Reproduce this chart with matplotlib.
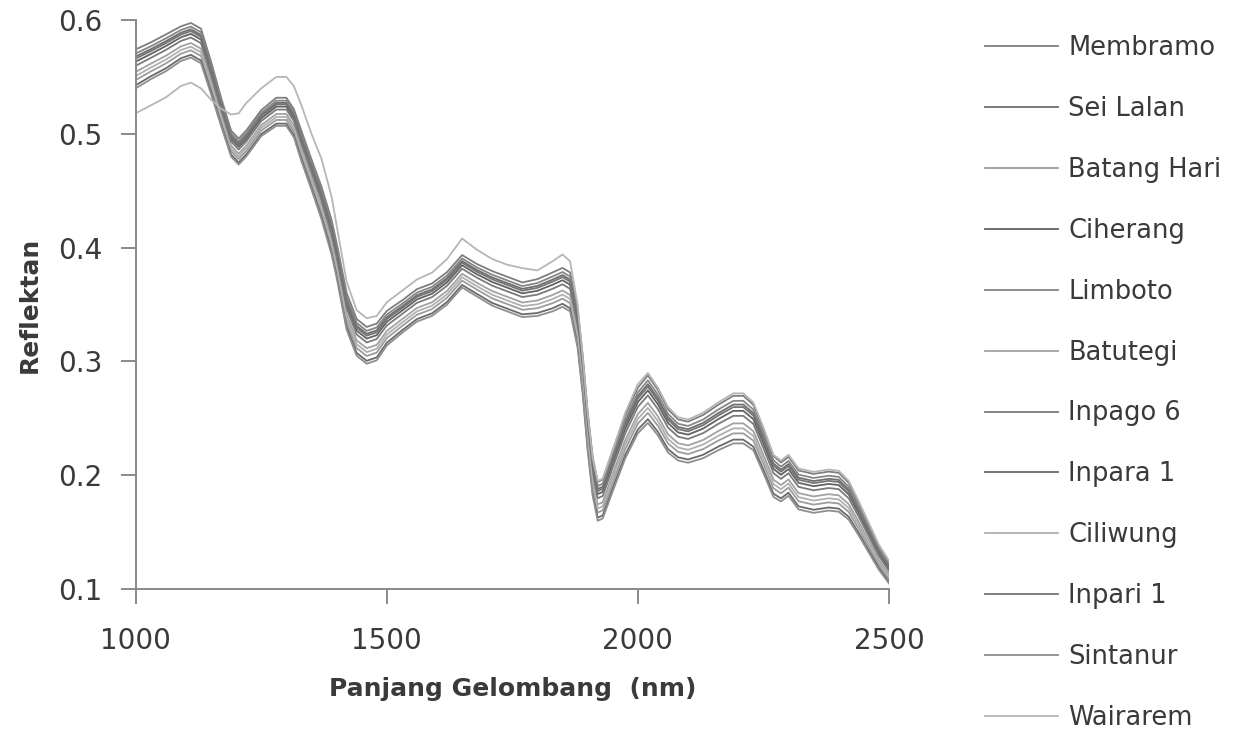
import numpy as np
import matplotlib
matplotlib.use("Agg")
import matplotlib.pyplot as plt

plt.rcParams['font.family'] = ['DejaVu Sans']

# wavelength knots (nm)
wl = [1000, 1030, 1060, 1090, 1110, 1130, 1150, 1170, 1190, 1205, 1220, 1250, 1280, 1300,
      1315, 1330, 1350, 1370, 1390, 1400, 1420, 1440, 1460, 1480, 1500, 1530, 1560, 1590,
      1620, 1650, 1680, 1710, 1740, 1770, 1800, 1830, 1850, 1865, 1880, 1890, 1900, 1910,
      1920, 1930, 1950, 1975, 2000, 2020, 2040, 2060, 2080, 2100, 2130, 2160, 2190, 2210,
      2230, 2250, 2270, 2285, 2300, 2320, 2350, 2380, 2400, 2420, 2440, 2460, 2480, 2500]

# centre of the bundle of curves
center = [0.558, 0.565, 0.572, 0.580, 0.583, 0.578, 0.550, 0.520, 0.492, 0.485, 0.492, 0.510,
          0.520, 0.520, 0.510, 0.490, 0.465, 0.440, 0.410, 0.390, 0.345, 0.322, 0.315, 0.318,
          0.330, 0.340, 0.350, 0.355, 0.365, 0.380, 0.372, 0.365, 0.360, 0.355, 0.357, 0.362,
          0.366, 0.362, 0.330, 0.290, 0.240, 0.200, 0.178, 0.180, 0.205, 0.235, 0.258, 0.268,
          0.256, 0.240, 0.232, 0.230, 0.235, 0.243, 0.250, 0.250, 0.243, 0.222, 0.200, 0.195,
          0.200, 0.188, 0.185, 0.187, 0.186, 0.178, 0.162, 0.145, 0.128, 0.115]

# half width of the bundle
halfw = [0.018, 0.017, 0.017, 0.016, 0.016, 0.016, 0.015, 0.013, 0.012, 0.012, 0.012, 0.012,
         0.013, 0.013, 0.013, 0.014, 0.014, 0.015, 0.016, 0.016, 0.017, 0.017, 0.017, 0.017,
         0.016, 0.015, 0.015, 0.015, 0.015, 0.015, 0.015, 0.016, 0.016, 0.016, 0.017, 0.018,
         0.018, 0.018, 0.018, 0.018, 0.018, 0.018, 0.018, 0.018, 0.019, 0.020, 0.021, 0.022,
         0.021, 0.020, 0.019, 0.019, 0.020, 0.021, 0.022, 0.022, 0.021, 0.020, 0.019, 0.018,
         0.018, 0.018, 0.018, 0.018, 0.018, 0.017, 0.015, 0.013, 0.011, 0.010]

# the one curve that stands apart from the bundle
outlier = [0.518, 0.525, 0.532, 0.542, 0.545, 0.540, 0.530, 0.522, 0.517, 0.518, 0.527, 0.540,
           0.550, 0.550, 0.542, 0.525, 0.500, 0.478, 0.445, 0.420, 0.370, 0.345, 0.338, 0.340,
           0.352, 0.362, 0.372, 0.378, 0.390, 0.408, 0.398, 0.390, 0.385, 0.382, 0.380, 0.388,
           0.394, 0.388, 0.350, 0.305, 0.255, 0.215, 0.195, 0.197, 0.222, 0.255, 0.280, 0.290,
           0.277, 0.260, 0.251, 0.249, 0.255, 0.264, 0.272, 0.272, 0.264, 0.242, 0.218, 0.213,
           0.218, 0.206, 0.203, 0.205, 0.204, 0.195, 0.177, 0.158, 0.139, 0.125]

varieties = ['Membramo', 'Sei Lalan', 'Batang Hari', 'Ciherang', 'Limboto', 'Batutegi',
             'Inpago 6', 'Inpara 1', 'Ciliwung', 'Inpari 1', 'Sintanur', 'Wairarem']
# relative place of each curve inside the bundle (-1 bottom, 1 top); None = outlier
position = [0.9, 0.55, -0.6, 0.3, 0.7, -0.2, 0.1, -0.85, -0.4, 0.45, -1.0, None]
colors = ['#7e7e7e', '#6e6e6e', '#9c9c9c', '#626262', '#858585', '#a2a2a2',
          '#7a7a7a', '#6a6a6a', '#b0b0b0', '#747474', '#8e8e8e', '#b6b6b6']

wl = np.array(wl)
center = np.array(center)
halfw = np.array(halfw)

fig = plt.figure(figsize=(12.45, 7.41), dpi=100)
ax = fig.add_axes([0.109, 0.205, 0.605, 0.768])

for name, pos, c in zip(varieties, position, colors):
    if pos is None:
        y = outlier
    else:
        y = center + pos * halfw
    ax.plot(wl, y, color=c, lw=1.3, label=name)

ax.set_xlim(1000, 2500)
ax.set_ylim(0.1, 0.6)
ax.set_xticks([1000, 1500, 2000, 2500])
ax.set_yticks([0.1, 0.2, 0.3, 0.4, 0.5, 0.6])
ax.set_yticklabels(['0.1', '0.2', '0.3', '0.4', '0.5', '0.6'])

for s in ['top', 'right']:
    ax.spines[s].set_visible(False)
for s in ['left', 'bottom']:
    ax.spines[s].set_color('#8a8a8a')
    ax.spines[s].set_linewidth(1.4)
ax.tick_params(direction='out', length=11, width=1.4, color='#8a8a8a',
               labelsize=20, labelcolor='#3a3a3a')
ax.tick_params(axis='x', pad=16)
ax.tick_params(axis='y', pad=13)

ax.set_xlabel('Panjang Gelombang  (nm)', fontsize=18, fontweight='bold',
              color='#3a3a3a', labelpad=16)
ax.set_ylabel('Reflektan', fontsize=18, fontweight='bold', color='#3a3a3a', labelpad=12)

leg = fig.legend(loc='upper left', bbox_to_anchor=(0.791, 0.953), frameon=False,
                 fontsize=18.5, handlelength=2.85, labelspacing=1.36, handletextpad=0.4,
                 borderaxespad=0, borderpad=0)
for t in leg.get_texts():
    t.set_color('#3a3a3a')

fig.savefig('out.png', dpi=100)
